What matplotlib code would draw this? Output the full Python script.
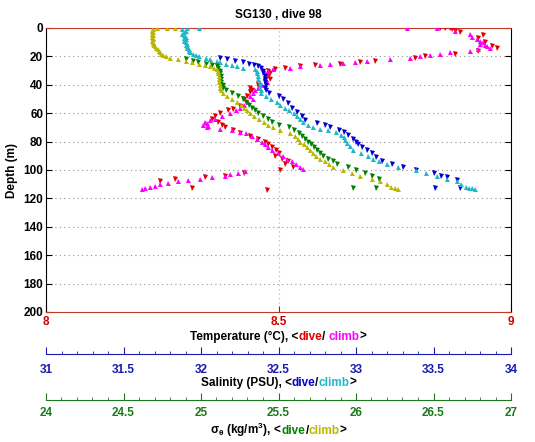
import numpy as np
import matplotlib
matplotlib.use("Agg")
import matplotlib.pyplot as plt
from matplotlib.ticker import MultipleLocator

plt.rcParams['font.family'] = ['Liberation Sans', 'DejaVu Sans']
plt.rcParams['font.weight'] = 'bold'
plt.rcParams['font.size'] = 8
plt.rcParams['mathtext.fontset'] = 'custom'
plt.rcParams['mathtext.rm'] = 'Liberation Sans'
plt.rcParams['mathtext.it'] = 'Liberation Sans:italic'
plt.rcParams['mathtext.bf'] = 'Liberation Sans:bold'

# --- donnees (profondeur en m) ---
temp_dive_depth = [0, 0, 0, 1, 2, 3, 5, 7, 10, 13, 14, 16, 18, 20, 21, 23, 24, 25, 26, 27,
                   28, 29, 30, 32, 34, 36, 38, 40, 42, 44, 45, 48, 50, 55, 57, 58, 60, 62, 64, 66,
                   68, 70, 72, 74, 76, 78, 80, 82, 84, 86, 88, 90, 92, 94, 96, 98, 100, 102, 104, 105,
                   106, 108, 113, 114]
temp_dive = [8.847, 8.858, 8.869, 8.873, 8.880, 8.890, 8.940, 8.929, 8.944, 8.959, 8.970, 8.929, 8.880, 8.815, 8.794, 8.708, 8.675, 8.632, 8.578, 8.546,
             8.514, 8.492, 8.477, 8.482, 8.477, 8.482, 8.471, 8.456, 8.439, 8.443, 8.439, 8.432, 8.426, 8.417, 8.402, 8.391, 8.374, 8.363, 8.357, 8.370,
             8.378, 8.385, 8.402, 8.417, 8.439, 8.456, 8.471, 8.477, 8.486, 8.495, 8.501, 8.492, 8.508, 8.520, 8.514, 8.531, 8.503, 8.426, 8.385, 8.342,
             8.277, 8.245, 8.314, 8.475]

temp_climb_depth = [0, 0, 2, 4, 6, 8, 9, 10, 11, 12, 13, 14, 15, 16, 17, 18, 19, 20, 21, 22,
                    23, 24, 24.5, 25, 26, 27, 28, 29, 30, 32, 34, 36, 38, 40, 42, 44, 46, 48, 50, 52,
                    54, 56, 58, 60, 62, 64, 65, 66, 67, 68, 69, 70, 71, 72, 73, 74, 76, 78, 80, 82,
                    84, 86, 88, 90, 92, 94, 96, 98, 99, 101, 102, 103, 104, 105, 106, 107, 108, 109, 110, 111,
                    112, 113, 113.5]
temp_climb = [8.776, 8.841, 8.880, 8.912, 8.916, 8.927, 8.933, 8.940, 8.933, 8.944, 8.948, 8.955, 8.929, 8.912, 8.869, 8.847, 8.826, 8.804, 8.783, 8.740,
              8.690, 8.665, 8.639, 8.611, 8.589, 8.546, 8.525, 8.488, 8.477, 8.473, 8.471, 8.473, 8.475, 8.465, 8.456, 8.449, 8.445, 8.439, 8.445, 8.434,
              8.426, 8.417, 8.409, 8.396, 8.378, 8.363, 8.353, 8.342, 8.346, 8.338, 8.348, 8.346, 8.374, 8.400, 8.417, 8.430, 8.443, 8.454, 8.465, 8.471,
              8.477, 8.486, 8.499, 8.510, 8.518, 8.529, 8.538, 8.546, 8.553, 8.428, 8.413, 8.396, 8.385, 8.357, 8.331, 8.305, 8.284, 8.262, 8.245, 8.234,
              8.224, 8.213, 8.206]

sal_dive_depth = [21, 22, 23, 24, 25, 26, 27, 28, 30, 32, 34, 36, 38, 40, 42, 44, 46, 48, 50, 53,
                  56, 59, 62, 65, 67, 68, 70, 72, 73, 75, 78, 80, 82, 84, 86, 88, 91, 94, 96, 98,
                  100, 102, 104, 105, 107, 113, 113]
sal_dive = [32.12, 32.17, 32.22, 32.27, 32.31, 32.34, 32.37, 32.39, 32.40, 32.40, 32.41, 32.41, 32.41, 32.42, 32.41, 32.42, 32.44, 32.50, 32.53, 32.56,
            32.59, 32.62, 32.65, 32.67, 32.75, 32.80, 32.83, 32.89, 32.92, 32.95, 32.98, 33.00, 33.01, 33.04, 33.07, 33.10, 33.13, 33.17, 33.23, 33.30,
            33.39, 33.50, 33.55, 33.59, 33.65, 33.51, 33.67]

sal_climb_depth = [0, 0, 1, 2, 3, 4, 5, 6, 7, 8, 9, 10, 11, 12, 13, 14, 15, 16, 17, 18,
                   19, 20, 21, 22, 23, 24, 25, 26, 27, 28, 29, 30, 32, 34, 36, 38, 40, 42, 44, 46,
                   48, 50, 52, 54, 56, 58, 60, 62, 64, 66, 68, 70, 71, 72, 73, 75, 77, 79, 81, 83,
                   86, 88, 90, 92, 94, 96, 98, 100, 102, 104, 106, 108, 110, 112, 113, 113.5, 112.5]
sal_climb = [31.91, 31.99, 31.88, 31.90, 31.89, 31.88, 31.89, 31.90, 31.89, 31.90, 31.89, 31.90, 31.91, 31.90, 31.91, 31.91, 31.92, 31.92, 31.93, 31.95,
             31.97, 31.99, 32.03, 32.06, 32.10, 32.12, 32.16, 32.20, 32.23, 32.27, 32.35, 32.36, 32.36, 32.37, 32.37, 32.38, 32.38, 32.38, 32.39, 32.39,
             32.42, 32.45, 32.49, 32.51, 32.54, 32.57, 32.60, 32.62, 32.64, 32.66, 32.69, 32.72, 32.77, 32.82, 32.87, 32.90, 32.92, 32.93, 32.94, 32.96,
             32.98, 33.03, 33.08, 33.11, 33.15, 33.20, 33.27, 33.39, 33.45, 33.52, 33.59, 33.65, 33.68, 33.71, 33.75, 33.77, 33.73]

sig_dive_depth = [22, 23, 24, 25, 26, 27, 28, 30, 32, 34, 36, 38, 40, 42, 44, 46, 48, 50, 52, 54,
                  56, 58, 60, 62, 64, 66, 68, 70, 72, 74, 76, 78, 80, 82, 84, 86, 88, 90, 92, 94,
                  96, 98, 100, 102, 104, 106, 113, 113]
sig_dive = [24.90, 24.95, 24.98, 25.03, 25.07, 25.10, 25.11, 25.12, 25.12, 25.13, 25.13, 25.13, 25.14, 25.14, 25.16, 25.20, 25.24, 25.27, 25.29, 25.31,
            25.33, 25.35, 25.37, 25.40, 25.43, 25.46, 25.50, 25.57, 25.60, 25.63, 25.65, 25.67, 25.69, 25.71, 25.73, 25.75, 25.77, 25.79, 25.82, 25.85,
            25.88, 25.95, 26.00, 26.06, 26.10, 26.15, 25.98, 26.13]

sig_climb_depth = [0, 0, 0, 1, 2, 3, 4, 5, 6, 7, 8, 9, 10, 11, 12, 13, 14, 15, 16, 17,
                   18, 19, 20, 21, 22, 23, 24, 25, 26, 27, 28, 29, 30, 32, 34, 36, 38, 40, 42, 44,
                   46, 48, 50, 52, 54, 56, 58, 60, 62, 64, 66, 68, 70, 72, 74, 76, 78, 80, 82, 84,
                   86, 88, 90, 92, 94, 96, 98, 100, 102, 104, 106, 108, 110, 112, 113, 113.5]
sig_climb = [24.716, 24.781, 24.832, 24.690, 24.684, 24.690, 24.684, 24.690, 24.684, 24.690, 24.690, 24.684, 24.690, 24.690, 24.697, 24.703, 24.710, 24.723, 24.729, 24.735,
             24.742, 24.755, 24.774, 24.800, 24.852, 24.903, 24.942, 24.987, 25.026, 25.058, 25.084, 25.103, 25.110, 25.110, 25.116, 25.116, 25.116, 25.123, 25.123, 25.129,
             25.142, 25.168, 25.200, 25.232, 25.258, 25.277, 25.297, 25.316, 25.342, 25.374, 25.406, 25.432, 25.465, 25.510, 25.574, 25.606, 25.626, 25.639, 25.665, 25.684,
             25.703, 25.723, 25.742, 25.768, 25.800, 25.826, 25.852, 25.916, 25.974, 26.026, 26.103, 26.155, 26.200, 26.226, 26.252, 26.271]

W, H = 535, 442
fig = plt.figure(figsize=(W / 100, H / 100), dpi=100)

x0, x1 = 46, 511
y_top, y_bot = 28, 312
rect = [x0 / W, 1 - y_bot / H, (x1 - x0) / W, (y_bot - y_top) / H]

rouge_axe = '#c0392b'
ms = 3.6

ax = fig.add_axes(rect)
ax.set_xlim(8, 9)
ax.set_ylim(200, 0)
ax.set_xticks([8, 8.5, 9])
ax.set_xticklabels(['8', '8.5', '9'])
ax.set_yticks(np.arange(0, 201, 20))
ax.tick_params(axis='x', colors='#d00000', direction='in', top=True, length=4, pad=3, labelsize=8.5)
ax.tick_params(axis='y', direction='in', right=True, length=4, pad=2, labelsize=8.5)
for lab in ax.get_xticklabels() + ax.get_yticklabels():
    lab.set_fontweight('bold')
ax.spines['top'].set_color(rouge_axe)
ax.spines['bottom'].set_color(rouge_axe)
for g in np.arange(20, 200, 20):
    ax.axhline(g, color='#909090', lw=0.8, ls=(0, (1, 3)), zorder=0)
ax.axvline(8.5, color='#d4a0a0', lw=0.8, ls=(0, (1, 3)), zorder=0)

ax.plot(temp_dive, temp_dive_depth, 'v', color='#e00000', ms=ms, mew=0, zorder=3)
ax.plot(temp_climb, temp_climb_depth, '^', color='#ff00ff', ms=ms, mew=0, zorder=3)

ax_s = ax.twiny()
ax_s.set_xlim(31, 34)
ax_s.set_ylim(200, 0)
ax_s.axis('off')
ax_s.plot(sal_dive, sal_dive_depth, 'v', color='#0000d0', ms=ms, mew=0)
ax_s.plot(sal_climb, sal_climb_depth, '^', color='#20b8c8', ms=ms, mew=0)

ax_g = ax.twiny()
ax_g.set_xlim(24, 27)
ax_g.set_ylim(200, 0)
ax_g.axis('off')
ax_g.plot(sig_dive, sig_dive_depth, 'v', color='#008000', ms=ms, mew=0)
ax_g.plot(sig_climb, sig_climb_depth, '^', color='#b8b800', ms=ms, mew=0)


def axe_echelle(y_px, lo, hi, couleur, pad):
    a = fig.add_axes([x0 / W, 1 - y_px / H, (x1 - x0) / W, 0.0001])
    a.set_xlim(lo, hi)
    a.set_yticks([])
    for s in ['top', 'left', 'right']:
        a.spines[s].set_visible(False)
    a.spines['bottom'].set_color(couleur)
    a.patch.set_visible(False)
    a.xaxis.set_major_locator(MultipleLocator(0.5))
    a.xaxis.set_minor_locator(MultipleLocator(0.1))
    a.tick_params(axis='x', which='major', direction='in', colors=couleur, length=5, pad=pad, labelsize=8.5)
    a.tick_params(axis='x', which='minor', direction='in', colors=couleur, length=2.5)
    a.set_xticks(np.arange(lo, hi + 0.01, 0.5))
    a.set_xticklabels([('%g' % v) for v in np.arange(lo, hi + 0.01, 0.5)], fontweight='bold')
    return a


axe_echelle(354, 31, 34, '#1a1ab0', 7)
axe_echelle(400, 24, 27, '#1a7a1a', 5)

fig.text(12 / W, 1 - 170 / H, 'Depth (m)', rotation=90, ha='center', va='center', fontsize=8.5, fontweight='bold')
fig.text((x0 + x1) / 2 / W, 1 - 17.5 / H, 'SG130 , dive 98', ha='center', va='baseline', fontsize=8.5, fontweight='bold')

renderer = fig.canvas.get_renderer()


def etiquette(y_px, morceaux):
    textes = []
    largeurs = []
    for s, c in morceaux:
        t = fig.text(0, 1 - y_px / H, s, color=c, va='baseline', ha='left', fontsize=8.5, fontweight='bold')
        largeurs.append(t.get_window_extent(renderer).width)
        textes.append(t)
    x = (x0 + x1) / 2 - sum(largeurs) / 2
    for t, w in zip(textes, largeurs):
        t.set_x(x / W)
        x += w


etiquette(340, [('Temperature (°C), <', 'black'), ('dive', '#e00000'), ('/ ', 'black'),
                ('climb', '#ff00ff'), ('>', 'black')])
etiquette(386, [('Salinity (PSU), <', 'black'), ('dive', '#0000d0'), ('/', 'black'),
                ('climb', '#20b8c8'), ('>', 'black')])
etiquette(434, [(r'$\mathrm{\sigma_\theta}$ (kg/m$\mathbf{^3}$), <', 'black'), ('dive', '#008000'), ('/', 'black'),
                ('climb', '#b8b800'), ('>', 'black')])

fig.savefig('out.png', dpi=100)
